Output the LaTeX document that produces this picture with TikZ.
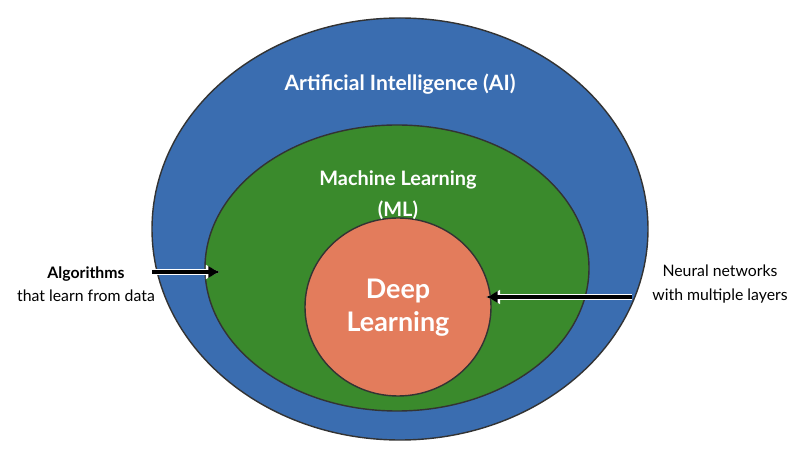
\documentclass[tikz,border=0pt]{standalone}
\usepackage{fontspec}
\setmainfont{Lato}
\usetikzlibrary{arrows.meta}
\definecolor{aiblue}{HTML}{3A6DB0}
\definecolor{mlgreen}{HTML}{3A8A2C}
\definecolor{dlorange}{HTML}{E37C5C}
\tikzset{
  layer/.style={draw=black!80, line width=1.2pt},
  title/.style={text=white, font=\bfseries, align=center},
  side/.style={align=center, font=\fontsize{13.5}{20}\selectfont},
  pointer/.style={-{Latex[length=10pt,width=11pt]}, line width=3.4pt, black,
    preaction={draw=white, line width=5.4pt, -{Latex[length=12pt,width=13pt]}}}
}
\begin{document}
\begin{tikzpicture}[x=0.03cm, y=-0.03cm]
\useasboundingbox (0,0) rectangle (800,456);
\fill[white] (0,0) rectangle (800,456);
% nested fields
\draw[layer, fill=aiblue] (400,229) ellipse [x radius=248, y radius=211];
\draw[layer, fill=mlgreen] (397,268) ellipse [x radius=192, y radius=143];
\draw[layer, fill=dlorange] (398,307) ellipse [x radius=93, y radius=89];
% labels
\node[title, font=\bfseries\fontsize{18}{22}\selectfont] (ai) at (400,84) {Artificial Intelligence (AI)};
\node[title, font=\bfseries\fontsize{17}{26}\selectfont] (ml) at (398,195) {Machine Learning\\(ML)};
\node[title, font=\bfseries\fontsize{23}{28}\selectfont] (dl) at (398,308) {Deep\\Learning};
\node[side] (alg) at (86,284) {\textbf{Algorithms}\\that learn from data};
\node[side] (nn) at (720,284) {Neural networks\\with multiple layers};
\coordinate (mltip) at (220,272);
\coordinate (dltip) at (486,297);
\draw[pointer] (152,272) -- (mltip);
\draw[pointer] (632,297) -- (dltip);
\end{tikzpicture}
\end{document}
